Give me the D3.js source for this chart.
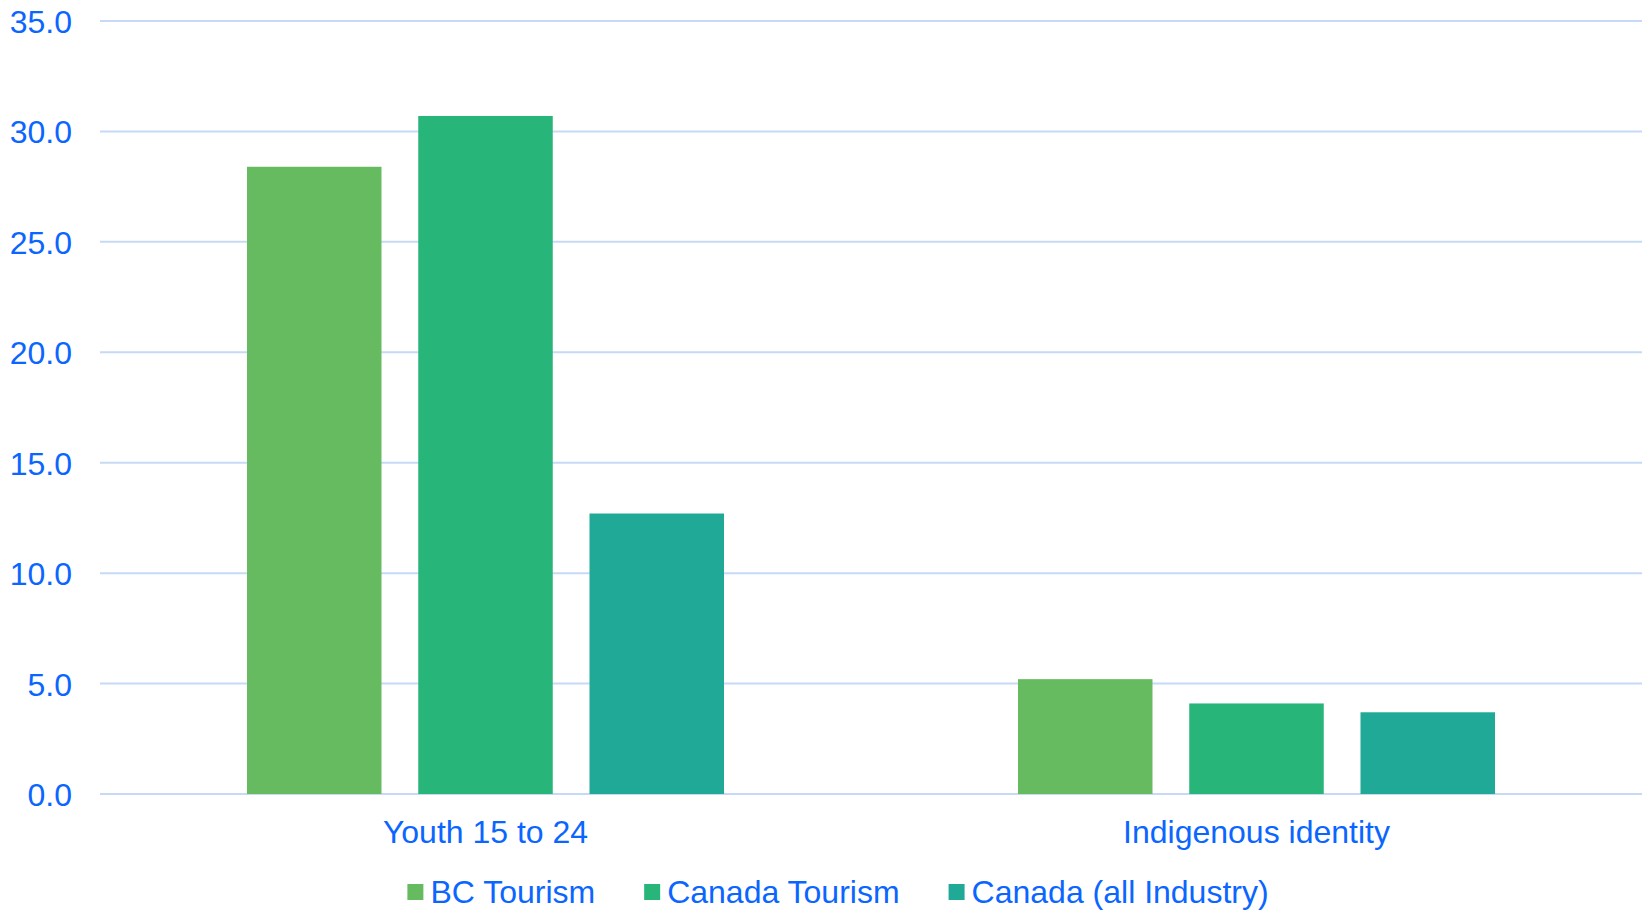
<!DOCTYPE html>
<html>
<head>
<meta charset="utf-8">
<script src="https://cdn.jsdelivr.net/npm/d3@7"></script>
<style>
  html, body { margin: 0; padding: 0; background: #fff; }
  svg text { font-family: "Liberation Sans", Arial, sans-serif; fill: #0a66ff; }
</style>
</head>
<body>
<svg id="ChartSvg" width="1645" height="911"></svg>
<script>
var Categories = ["Youth 15 to 24", "Indigenous identity"];
var SeriesNames = ["BC Tourism", "Canada Tourism", "Canada (all Industry)"];
var BCTourism = [28.4, 5.2];
var CanadaTourism = [30.7, 4.1];
var CanadaAll = [12.7, 3.7];
var YTicks = [0, 5, 10, 15, 20, 25, 30, 35];

var SeriesValues = [BCTourism, CanadaTourism, CanadaAll];
var Colors = ["#66bb61", "#28b57a", "#21a998"];

var svg = d3.select("#ChartSvg");
var Left = 100, Right = 1642, Top = 21, Bottom = 794;
var FontSize = 32;

var y = d3.scaleLinear().domain([0, 35]).range([Bottom, Top]);

var x0 = d3.scaleBand()
	.domain(Categories)
	.range([Left, Right])
	.padding(0);

var x1 = d3.scaleBand()
	.domain(SeriesNames)
	.range([147, x0.bandwidth() - 147])
	.paddingInner(0.2146)
	.paddingOuter(0);

// gridlines
svg.append("g")
	.selectAll("line")
	.data(YTicks)
	.enter()
	.append("line")
	.attr("x1", Left)
	.attr("x2", Right)
	.attr("y1", function(d){ return y(d); })
	.attr("y2", function(d){ return y(d); })
	.style("stroke", "#c6daf6")
	.style("stroke-width", 2);

// y axis labels
var yAxis = d3.axisLeft(y)
	.tickValues(YTicks)
	.tickFormat(d3.format(".1f"))
	.tickSize(0)
	.tickPadding(0);

var yG = svg.append("g")
	.attr("transform", "translate(72,0)")
	.call(yAxis);
yG.select(".domain").remove();
yG.selectAll("text")
	.attr("dy", "0.36em")
	.style("font-size", FontSize + "px")
	.style("fill", "#0a66ff")
	.style("font-family", '"Liberation Sans", Arial, sans-serif');

// bars
var Groups = svg.append("g")
	.selectAll("g")
	.data(Categories)
	.enter()
	.append("g")
	.attr("transform", function(d){ return "translate(" + x0(d) + ",0)"; });

Groups.selectAll("rect")
	.data(function(d, ci){
		return SeriesNames.map(function(s, si){
			return { name: s, value: SeriesValues[si][ci], color: Colors[si] };
		});
	})
	.enter()
	.append("rect")
	.attr("x", function(d){ return x1(d.name); })
	.attr("width", x1.bandwidth())
	.attr("y", function(d){ return y(d.value); })
	.attr("height", function(d){ return y(0) - y(d.value); })
	.style("fill", function(d){ return d.color; });

// category labels
var xAxis = d3.axisBottom(x0).tickSize(0).tickPadding(0);
var xG = svg.append("g")
	.attr("transform", "translate(0,843)")
	.call(xAxis);
xG.select(".domain").remove();
xG.selectAll("text")
	.attr("dy", 0)
	.style("font-size", FontSize + "px")
	.style("fill", "#0a66ff")
	.style("font-family", '"Liberation Sans", Arial, sans-serif');

// legend
var Legend = svg.append("g").attr("class", "legend");
var Items = Legend.selectAll("g")
	.data(SeriesNames)
	.enter()
	.append("g");

Items.append("rect")
	.attr("width", 16)
	.attr("height", 16)
	.attr("y", 903 - 19)
	.style("fill", function(d, i){ return Colors[i]; });

Items.append("text")
	.attr("x", 23)
	.attr("y", 903)
	.style("font-size", FontSize + "px")
	.text(function(d){ return d; });

var Xpos = 0;
var Widths = [];
Items.each(function(){
	var w = 23 + d3.select(this).select("text").node().getComputedTextLength();
	Widths.push(w);
});
var Gap = 49;
var Total = d3.sum(Widths) + Gap * (Widths.length - 1);
Xpos = 838 - Total / 2;
Items.attr("transform", function(d, i){
	var p = Xpos;
	Xpos += Widths[i] + Gap;
	return "translate(" + p + ",0)";
});
</script>
</body>
</html>
